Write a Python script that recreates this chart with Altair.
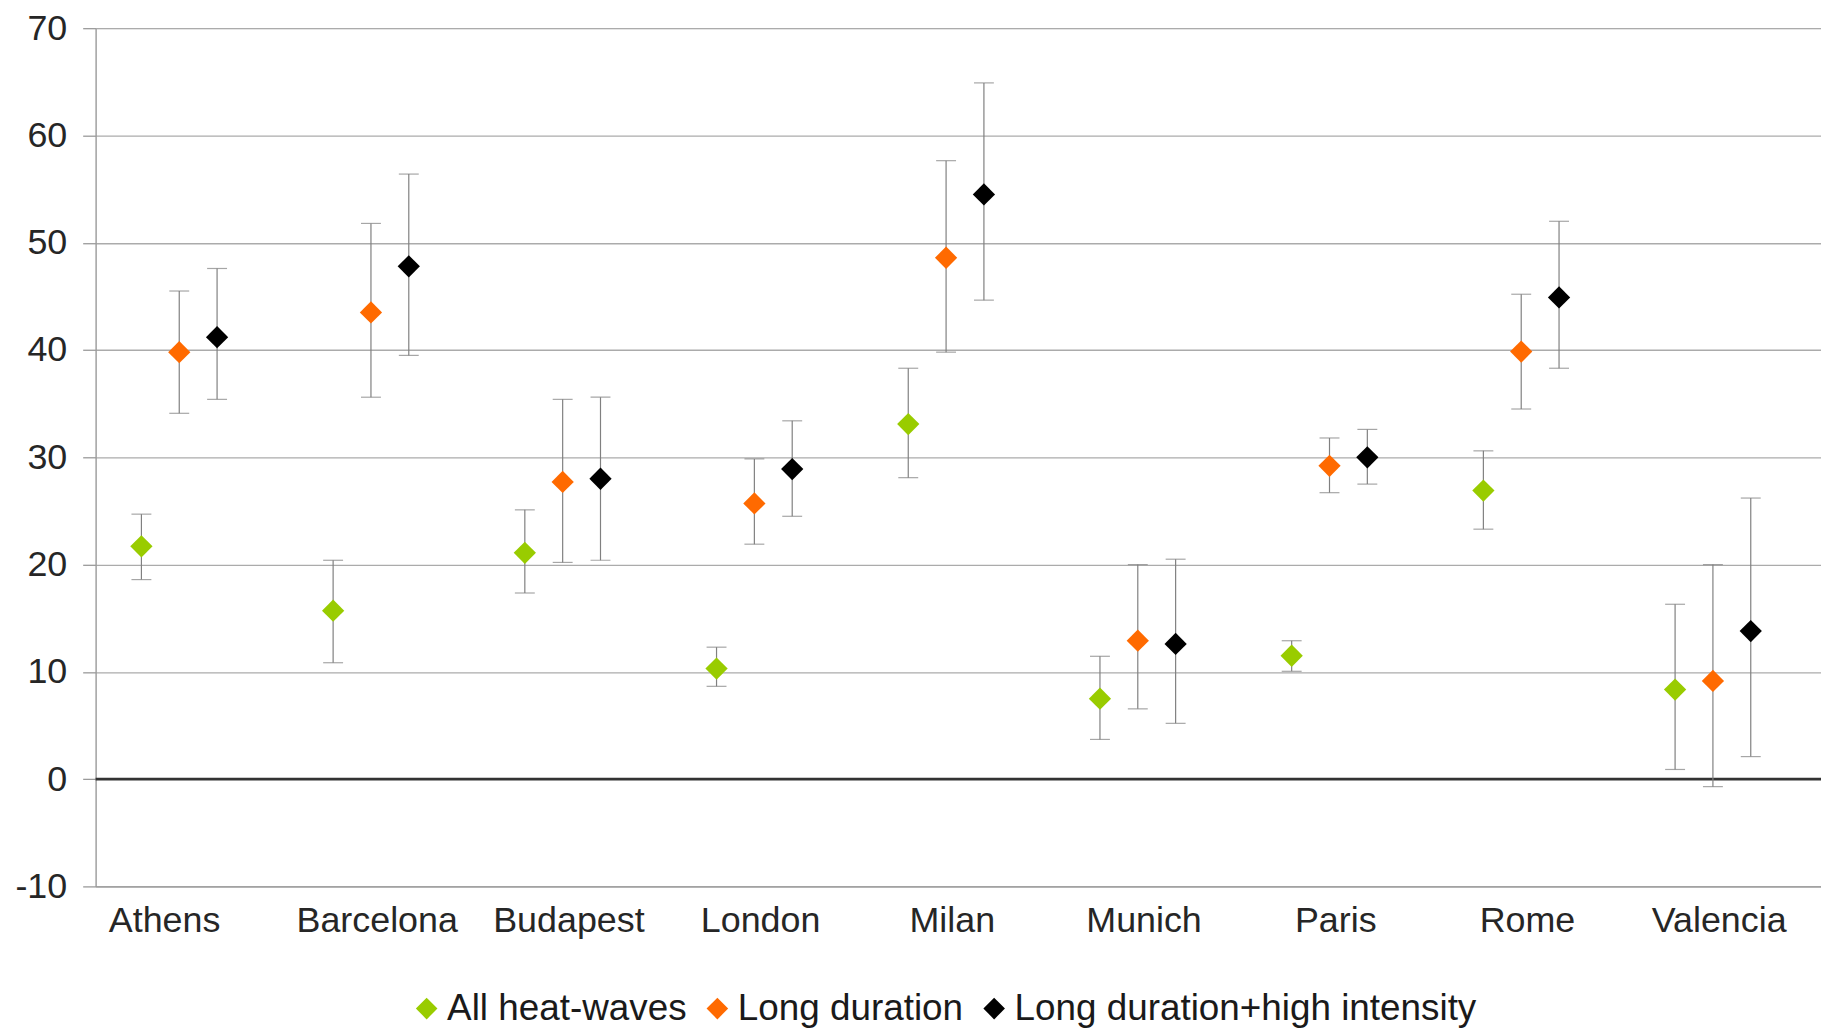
import altair as alt
import pandas as pd

cities = ["Athens", "Barcelona", "Budapest", "London", "Milan",
          "Munich", "Paris", "Rome", "Valencia"]
series = ["All heat-waves", "Long duration", "Long duration+high intensity"]
colors = ["#99cc00", "#ff6a00", "#000000"]

all_val = [21.7, 15.7, 21.1, 10.3, 33.1, 7.5, 11.5, 26.9, 8.35]
all_lo = [18.6, 10.85, 17.35, 8.65, 28.1, 3.7, 10.05, 23.3, 0.9]
all_hi = [24.7, 20.4, 25.1, 12.3, 38.3, 11.45, 12.9, 30.6, 16.3]

long_val = [39.8, 43.5, 27.7, 25.7, 48.6, 12.9, 29.2, 39.85, 9.15]
long_lo = [34.1, 35.6, 20.2, 21.9, 39.8, 6.55, 26.7, 34.5, -0.7]
long_hi = [45.5, 51.8, 35.4, 29.85, 57.65, 20.0, 31.8, 45.2, 20.0]

lhi_val = [41.2, 47.8, 28.0, 28.9, 54.5, 12.6, 30.0, 44.9, 13.8]
lhi_lo = [35.4, 39.5, 20.4, 24.5, 44.65, 5.2, 27.5, 38.3, 2.1]
lhi_hi = [47.6, 56.4, 35.6, 33.4, 64.9, 20.5, 32.6, 52.0, 26.2]

y_ticks = [-10, 0, 10, 20, 30, 40, 50, 60, 70]

rows = []
for s, vals, los, his in [
    (series[0], all_val, all_lo, all_hi),
    (series[1], long_val, long_lo, long_hi),
    (series[2], lhi_val, lhi_lo, lhi_hi),
]:
    for c, v, lo, hi in zip(cities, vals, los, his):
        rows.append({"city": c, "series": s, "val": v, "lo": lo, "hi": hi})
df = pd.DataFrame(rows)
zero_df = pd.DataFrame({"y": [0]})

FONT = "Liberation Sans"

x_enc = alt.X(
    "city:N",
    sort=cities,
    scale=alt.Scale(domain=cities, paddingInner=0, paddingOuter=0),
    axis=alt.Axis(
        title=None, labelAngle=0, ticks=False, grid=False,
        domainColor="#9a9a9a", domainWidth=1.3,
        labelFontSize=36, labelColor="#262626", labelPadding=17,
        labelOffset={"condition": {"test": "datum.value == 'Athens'", "value": -27},
                     "value": -6},
        labelFont=FONT,
    ),
)
xoff_enc = alt.XOffset(
    "series:N",
    scale=alt.Scale(domain=series, type="point", range=[46, 122], padding=0),
)
y_scale = alt.Scale(domain=[-10, 70], nice=False, zero=False)
y_axis = alt.Axis(
    title=None, values=y_ticks, grid=True, gridColor="#ababab", gridWidth=1.3,
    domainColor="#9a9a9a", domainWidth=1.3, tickColor="#9a9a9a", tickSize=13,
    tickWidth=1.3, labelFontSize=36, labelColor="#262626", labelPadding=16,
    labelFont=FONT, labelExpr="'' + datum.value",
)

base = alt.Chart(df)

zero_line = alt.Chart(zero_df).mark_rule(color="#333333", strokeWidth=2.8).encode(
    y=alt.Y("y:Q", scale=y_scale, axis=y_axis)
)

err = base.mark_rule(color="#808080", strokeWidth=1.2).encode(
    x=x_enc, xOffset=xoff_enc,
    y=alt.Y("lo:Q", scale=y_scale, axis=y_axis),
    y2="hi:Q",
)
cap_hi = base.mark_tick(color="#808080", thickness=1.2, size=20).encode(
    x=x_enc, xOffset=xoff_enc, y=alt.Y("hi:Q", scale=y_scale, axis=y_axis)
)
cap_lo = base.mark_tick(color="#808080", thickness=1.2, size=20).encode(
    x=x_enc, xOffset=xoff_enc, y=alt.Y("lo:Q", scale=y_scale, axis=y_axis)
)
pts = base.mark_point(shape="diamond", filled=True, size=500, opacity=1).encode(
    x=x_enc, xOffset=xoff_enc,
    y=alt.Y("val:Q", scale=y_scale, axis=y_axis),
    color=alt.Color(
        "series:N",
        scale=alt.Scale(domain=series, range=colors),
        legend=alt.Legend(
            title=None, orient="none", direction="horizontal",
            legendX=314, legendY=966, symbolType="diamond", symbolSize=470,
            symbolStrokeWidth=0, labelFontSize=37, labelColor="#1a1a1a",
            labelFont=FONT, labelOffset=2, columnPadding=12, padding=0,
            labelLimit=1000,
        ),
    ),
)

chart = (
    alt.layer(zero_line, err, cap_hi, cap_lo, pts)
    .properties(
        width=1733, height=862,
        autosize=alt.AutoSizeParams(type="none"),
        padding={"left": 88, "top": 18, "right": 0, "bottom": 150},
    )
    .configure_view(strokeWidth=0)
    .configure(font=FONT)
)

chart.save("out.html", embed_options={"renderer": "svg", "actions": False})
